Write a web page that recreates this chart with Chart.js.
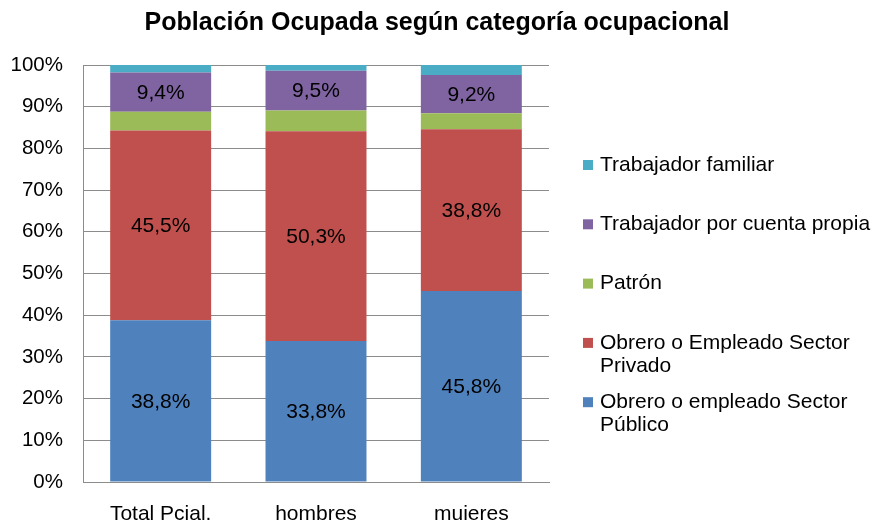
<!DOCTYPE html>
<html>
<head>
<meta charset="utf-8">
<script src="https://cdn.jsdelivr.net/npm/chart.js@4/dist/chart.umd.min.js"></script>
<style>
  html, body { margin: 0; padding: 0; background: #fff; }
  #wrap { width: 874px; height: 520px; position: relative; }
</style>
</head>
<body>
<div id="wrap"><canvas id="c" width="874" height="520"></canvas></div>
<script>
const chartTitle = 'Población Ocupada según categoría ocupacional';
const categories = ['Total Pcial.', 'hombres', 'mujeres'];
const seriesNames = [
  ['Obrero o empleado Sector', 'Público'],
  ['Obrero o Empleado Sector', 'Privado'],
  ['Patrón'],
  ['Trabajador por cuenta propia'],
  ['Trabajador familiar']
];
const publico = [38.8, 33.8, 45.8];
const privado = [45.5, 50.3, 38.8];
const patron = [4.5, 5.0, 3.8];
const cuentaPropia = [9.4, 9.5, 9.2];
const familiar = [1.8, 1.4, 2.4];
const yTicks = [0, 10, 20, 30, 40, 50, 60, 70, 80, 90, 100];

const colors = ['#4F81BD', '#C0504D', '#9BBB59', '#8064A2', '#4BACC6'];
const showLabels = [true, true, false, true, false];
const seriesValues = [publico, privado, patron, cuentaPropia, familiar];

const FONT = '"Liberation Sans", Arial, sans-serif';

const datasets = seriesValues.map((vals, i) => ({
  label: seriesNames[i].join(' '),
  data: vals,
  backgroundColor: colors[i],
  borderWidth: 0,
  barPercentage: 0.65,
  categoryPercentage: 1.0,
  showValueLabel: showLabels[i],
  legendLines: seriesNames[i]
}));

const valueLabels = {
  id: 'valueLabels',
  afterDatasetsDraw(chart) {
    const ctx = chart.ctx;
    ctx.save();
    ctx.font = '21px ' + FONT;
    ctx.fillStyle = '#000';
    ctx.textAlign = 'center';
    ctx.textBaseline = 'middle';
    chart.data.datasets.forEach((ds, di) => {
      if (!ds.showValueLabel) return;
      const meta = chart.getDatasetMeta(di);
      meta.data.forEach((el, idx) => {
        const v = ds.data[idx];
        const txt = v.toFixed(1).replace('.', ',') + '%';
        ctx.fillText(txt, el.x, (el.y + el.base) / 2 + 1);
      });
    });
    ctx.restore();
  }
};

const titleAndLegend = {
  id: 'titleAndLegend',
  afterDraw(chart) {
    const ctx = chart.ctx;
    ctx.save();
    // title centred on the full canvas
    ctx.font = 'bold 25px ' + FONT;
    ctx.fillStyle = '#000';
    ctx.textAlign = 'center';
    ctx.textBaseline = 'middle';
    ctx.fillText(chartTitle, chart.width / 2, 23);
    // legend on the right, reversed order
    ctx.font = '21px ' + FONT;
    ctx.textAlign = 'left';
    const dsList = chart.data.datasets.slice().reverse();
    const startY = 165, step = 59.3, lineH = 23;
    const markX = 583, textX = 600, mark = 10;
    dsList.forEach((ds, i) => {
      const y = startY + i * step;
      ctx.fillStyle = ds.backgroundColor;
      ctx.fillRect(markX, y - mark / 2, mark, mark);
      ctx.fillStyle = '#000';
      ds.legendLines.forEach((line, li) => {
        ctx.fillText(line, textX, y + li * lineH);
      });
    });
    ctx.restore();
  }
};

new Chart(document.getElementById('c'), {
  type: 'bar',
  data: { labels: categories, datasets },
  plugins: [valueLabels, titleAndLegend],
  options: {
    responsive: false,
    animation: false,
    devicePixelRatio: 1,
    layout: { padding: { left: 0, right: 325, top: 65, bottom: 0 } },
    plugins: {
      legend: { display: false },
      tooltip: { enabled: false },
      title: { display: false }
    },
    scales: {
      x: {
        stacked: true,
        grid: { display: false, drawTicks: false },
        border: { display: true, color: '#8c8c8c', width: 1 },
        ticks: { color: '#000', font: { family: FONT, size: 21 }, padding: 20 },
        afterFit(scale) { scale.height = 38; }
      },
      y: {
        stacked: true,
        min: 0,
        max: 100,
        afterBuildTicks(scale) { scale.ticks = yTicks.map(v => ({ value: v })); },
        grid: { color: '#8c8c8c', drawTicks: false, lineWidth: 1 },
        border: { display: true, color: '#8c8c8c', width: 1 },
        ticks: {
          color: '#000',
          font: { family: FONT, size: 20.5 },
          padding: 20,
          callback: v => v + '%'
        },
        afterFit(scale) { scale.width = 83; }
      }
    }
  }
});
</script>
</body>
</html>
